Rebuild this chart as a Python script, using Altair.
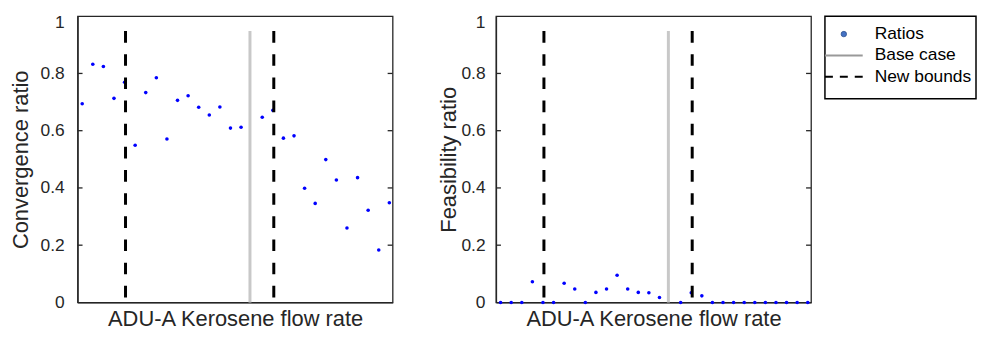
import altair as alt
import pandas as pd

# ---- data ----
idx = [1, 2, 3, 4, 5, 6, 7, 8, 9, 10, 11, 12, 13, 14, 15, 16,
       18, 19, 20, 21, 22, 23, 24, 25, 26, 27, 28, 29, 30]
convergence = [0.694, 0.832, 0.824, 0.713, 0.769, 0.549, 0.733, 0.785, 0.571,
               0.706, 0.722, 0.682, 0.655, 0.683, 0.609, 0.612,
               0.647, 0.671, 0.574, 0.582, 0.399, 0.346, 0.499, 0.428,
               0.260, 0.436, 0.322, 0.183, 0.348]
feasibility = [0.0, 0.0, 0.0, 0.072, 0.0, 0.0, 0.067, 0.047, 0.0, 0.035,
               0.047, 0.095, 0.047, 0.035, 0.034, 0.017,
               0.0, 0.034, 0.023, 0.0, 0.0, 0.0, 0.0, 0.0,
               0.0, 0.0, 0.0, 0.0, 0.0]
base_case = [16.84]
new_bounds = [5.09, 19.09]
line_top = 0.948
y_ticks = [0.2, 0.4, 0.6, 0.8]
x_domain = [0.5625, 30.31]
legend_labels = ["Ratios", "Base case", "New bounds"]

W, H = 317, 288
AX = "#262626"
FONT = "Liberation Sans"
TICK_UNITS = (x_domain[1] - x_domain[0]) * 5 / W  # 5 px inward ticks


def panel(values, ytitle, label_pad, title_pad, extend_left=None):
    df = pd.DataFrame({"x": idx, "y": values})
    xs = alt.Scale(domain=x_domain, nice=False, zero=False)
    ys = alt.Scale(domain=[0, 1], nice=False)
    xax = alt.Axis(title="ADU-A Kerosene flow rate", labels=False, ticks=False,
                   domain=True, domainColor=AX, domainWidth=1.3, grid=False,
                   titleFontSize=22, titleFont=FONT,
                   titleFontWeight="normal", titleColor=AX, titlePadding=6)
    yax = alt.Axis(title=ytitle, values=[0, 0.2, 0.4, 0.6, 0.8, 1],
                   labelExpr="datum.value == 0 ? '0' : datum.value == 1 ? '1' : format(datum.value, '.1f')",
                   labelBaseline="middle",
                   labelOffset={"condition": {"test": "datum.value == 1", "value": 6.5},
                                "value": 0},
                   ticks=False, domain=True, domainColor=AX, domainWidth=1.3, grid=False,
                   labelFontSize=17.5,
                   labelFont=FONT, labelColor=AX, labelPadding=label_pad,
                   titleFontSize=22, titleFont=FONT, titleFontWeight="normal",
                   titleColor=AX, titlePadding=title_pad)
    pts = alt.Chart(df).mark_circle(size=13, color="#0000ff", opacity=1).encode(
        x=alt.X("x:Q", scale=xs, axis=xax),
        y=alt.Y("y:Q", scale=ys, axis=yax),
    )
    base = alt.Chart(pd.DataFrame({"x": base_case, "top": [line_top], "bot": [0]})).mark_rule(
        color="#c8c8c8", strokeWidth=3).encode(
        x=alt.X("x:Q", scale=xs), y=alt.Y("top:Q", scale=ys), y2="bot:Q")
    bounds = alt.Chart(pd.DataFrame({"x": new_bounds, "top": [line_top] * 2, "bot": [0] * 2})).mark_rule(
        color="black", strokeWidth=3, strokeDash=[11.7, 11.6]).encode(
        x=alt.X("x:Q", scale=xs), y=alt.Y("top:Q", scale=ys), y2="bot:Q")
    tdf = pd.DataFrame({
        "yt": y_ticks * 2,
        "x0": [x_domain[0]] * 4 + [x_domain[1]] * 4,
        "x1": [x_domain[0] + TICK_UNITS] * 4 + [x_domain[1] - TICK_UNITS] * 4,
    })
    ticks = alt.Chart(tdf).mark_rule(color=AX, strokeWidth=1.3, opacity=1).encode(
        x=alt.X("x0:Q", scale=xs), x2="x1:Q", y=alt.Y("yt:Q", scale=ys))
    layers = [pts, base, bounds, ticks]
    if extend_left is not None:
        spacer = alt.Chart(pd.DataFrame({"k": [0]})).mark_rule(opacity=0, strokeWidth=1).encode(
            x=alt.value(-extend_left), x2=alt.value(-extend_left + 1), y=alt.value(H / 2))
        layers.append(spacer)
    return alt.layer(*layers).properties(
        width=W, height=H, view=alt.ViewBackground(stroke=AX, strokeWidth=1.3, fill="white"))


left = panel(convergence, "Convergence ratio", 13.5, 8)
right = panel(feasibility, "Feasibility ratio", 11, 0, extend_left=90.75)

ldf = pd.DataFrame({"label": legend_labels})
ly = alt.Scale(type="point", domain=legend_labels, range=[18, 61], padding=0)
leg_dot = alt.Chart(ldf).transform_filter(alt.datum.label == "Ratios").mark_point(
    filled=True, size=30, color="#4472c4", stroke="#2f528f", strokeWidth=0.8, opacity=1,
    shape="circle").encode(
    x=alt.value(19), y=alt.Y("label:N", scale=ly, axis=None))
leg_base = alt.Chart(ldf).transform_filter(alt.datum.label == "Base case").mark_rule(
    color="#999999", strokeWidth=2).encode(
    x=alt.value(0), x2=alt.value(38), y=alt.Y("label:N", scale=ly, axis=None))
leg_bound = alt.Chart(ldf).transform_filter(alt.datum.label == "New bounds").mark_rule(
    color="black", strokeWidth=2, strokeDash=[8, 7]).encode(
    x=alt.value(0), x2=alt.value(38), y=alt.Y("label:N", scale=ly, axis=None))
leg_text = alt.Chart(ldf).mark_text(align="left", baseline="middle", fontSize=17.5,
                                    font=FONT, color="black").encode(
    x=alt.value(50), y=alt.Y("label:N", scale=ly, axis=None), text="label:N")
legend = alt.layer(leg_dot, leg_base, leg_bound, leg_text).properties(
    width=152, height=83, view=alt.ViewBackground(stroke="black", strokeWidth=1.5))

chart = alt.hconcat(left, right, legend, spacing=10).properties(
    padding={"left": 0, "top": 3.25, "right": 0, "bottom": 0},
    background="white",
)

chart.save("out.html", embed_options={"renderer": "svg", "actions": False})
